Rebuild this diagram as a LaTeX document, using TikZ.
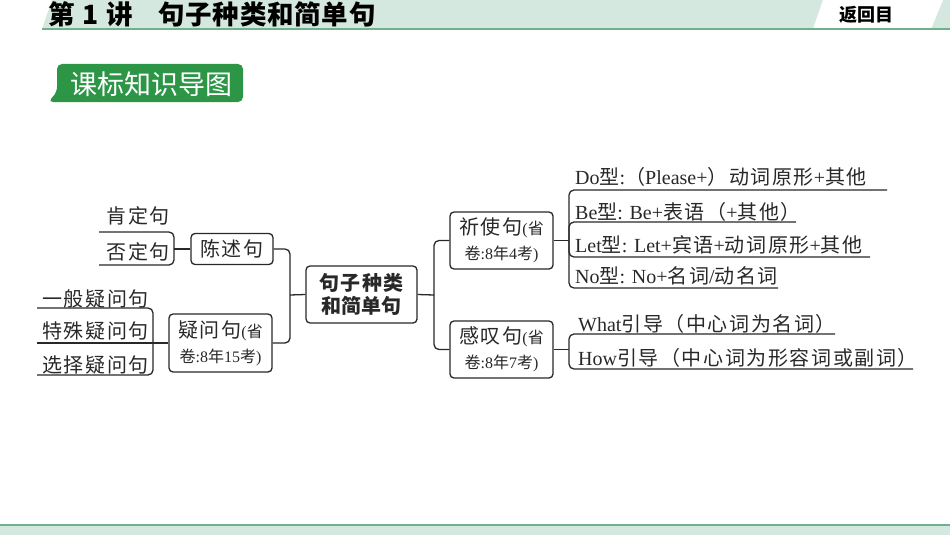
\documentclass[tikz,border=0pt]{standalone}
\usepackage{fontspec}
\setmainfont{Liberation Serif}
\newfontfamily\zhfont[LetterSpace=8]{Noto Sans CJK SC}
\newfontfamily\zhplain{Noto Sans CJK SC}
\newcommand\zh[1]{{\zhfont #1}}
\newcommand\sm[1]{{\fontsize{16}{20}\selectfont #1}}
\definecolor{hdr}{RGB}{213,232,223}
\definecolor{hline}{RGB}{112,176,140}
\definecolor{tabg}{RGB}{44,150,70}
\definecolor{ink}{RGB}{40,40,40}
\tikzset{
 conn/.style={draw=ink,line width=1.3pt,rounded corners=5pt},
 bx/.style={draw=ink,line width=1.3pt,rounded corners=4pt,inner sep=0pt,align=center,text=ink,font=\fontsize{20}{25}\selectfont},
 item/.style={inner sep=0pt,font=\fontsize{20}{24}\selectfont,text=ink},
 ttl/.style={anchor=base west,inner sep=0,font=\zhplain\bfseries\fontsize{26.5}{30}\selectfont},
}
\begin{document}
\begin{tikzpicture}[x=1pt,y=-1pt]
\useasboundingbox (0,0) rectangle (950,535);
% header
\fill[hdr] (42,29) -- (52,0) -- (950,0) -- (950,29) -- cycle;
\fill[white] (813,29) -- (823,0) -- (943,0) -- (931,29) -- cycle;
\draw[hline,line width=2pt] (42,29.5) -- (950,29.5);
\node[ttl] (title1) at (48,25) {第\hspace{0.3em}1\hspace{0.3em}讲};
\node[ttl] (title2) at (158,25) {\addfontfeature{LetterSpace=3}句子种类和简单句};
\node[font=\zhplain\bfseries\fontsize{18}{20}\selectfont,inner sep=0] (back) at (866,15) {返回目};
% tab
\fill[tabg,rounded corners=5pt] (57,92) |- (243,64) |- (48,102) -- cycle;
\node[text=white,font=\zhplain\fontsize{27}{30}\selectfont,inner sep=0] (tab) at (151,84) {课标知识导图};
% footer
\fill[hdr] (0,525) rectangle (950,535);
\draw[hline,line width=2pt] (0,524.5) -- (950,524.5);
% boxes
\node[bx,minimum width=82pt,minimum height=31pt] (cs) at (232,249) {\zh{陈述句}};
\node[bx,minimum width=103pt,minimum height=58pt] (yw) at (220.5,343) {\zh{疑问句}\sm{(\zh{省}}\\\sm{\zh{卷}:8\zh{年}15\zh{考})}};
\node[bx,minimum width=111pt,minimum height=57pt,font=\zhplain\bfseries\fontsize{20}{23}\selectfont] (ct) at (361.5,294.5) {\addfontfeature{LetterSpace=6}句子种类\\和简单句};
\node[bx,minimum width=103pt,minimum height=57pt] (qs) at (501.5,240.5) {\zh{祈使句}\sm{(\zh{省}}\\\sm{\zh{卷}:8\zh{年}4\zh{考})}};
\node[bx,minimum width=103pt,minimum height=57pt] (gt) at (501.5,349.5) {\zh{感叹句}\sm{(\zh{省}}\\\sm{\zh{卷}:8\zh{年}7\zh{考})}};
% left of chenshu
\coordinate (jA) at (174,249);
\coordinate (a1) at (99,232);
\coordinate (a2) at (99,265);
\draw[conn] (cs.west) -- (jA);
\draw[conn] (jA) |- (a1);
\draw[conn] (jA) |- (a2);
% left of yiwen
\coordinate (jB) at (153,343);
\coordinate (b0) at (37,343);
\coordinate (b1) at (37,308);
\coordinate (b2) at (37,375);
\draw[conn] (b0) -- (yw.west);
\draw[conn] (jB) |- (b1);
\draw[conn] (jB) |- (b2);
% centre left
\coordinate (jL) at (290,295);
\draw[conn] (cs.east) -| (jL);
\draw[conn] (yw.east) -| (jL);
\draw[conn] (jL) -- (ct.west);
% centre right
\coordinate (jR) at (434,295);
\draw[conn] (ct.east) -- (jR);
\draw[conn] (jR) |- (qs.west);
\draw[conn] (jR) |- (gt.west);
% qishi
\coordinate (jQ) at (569,240.5);
\coordinate (dE) at (887,190);
\coordinate (bE) at (796,222);
\coordinate (lE) at (870,257);
\coordinate (nE) at (778,288);
\draw[conn] (qs.east) -- (jQ);
\draw[conn] (jQ) |- (dE);
\draw[conn] (jQ) |- (bE);
\draw[conn] (jQ) |- (lE);
\draw[conn] (jQ) |- (nE);
% gantan
\coordinate (jG) at (569,349.5);
\coordinate (wE) at (835,334);
\coordinate (hE) at (913,369);
\draw[conn] (gt.east) -- (jG);
\draw[conn] (jG) |- (wE);
\draw[conn] (jG) |- (hE);
% items
\node[item,anchor=base west] (tDo) at (575,184) {Do\zh{型}:\zh{（}Please+\zh{）动词原形}+\zh{其他}};
\node[item,anchor=base west] (tBe) at (575,219) {Be\zh{型}: Be+\zh{表语（}+\zh{其他）}};
\node[item,anchor=base west] (tLet) at (575,252) {Let\zh{型}: Let+\zh{宾语}+\zh{动词原形}+\zh{其他}};
\node[item,anchor=base west] (tNo) at (575,283) {No\zh{型}: No+\zh{名词}/\zh{动名词}};
\node[item,anchor=base west] (tWhat) at (578,331.5) {What\zh{引导（中心词为名词）}};
\node[item,anchor=base west] (tHow) at (578,365) {How\zh{引导（中心词为形容词或副词）}};
\node[item,anchor=base east] (tK) at (170,223) {\zh{肯定句}};
\node[item,anchor=base east] (tF) at (170,259.5) {\zh{否定句}};
\node[item,anchor=base east] (tY1) at (149,306) {\zh{一般疑问句}};
\node[item,anchor=base east] (tY2) at (149,338.5) {\zh{特殊疑问句}};
\node[item,anchor=base east] (tY3) at (149,372) {\zh{选择疑问句}};
\end{tikzpicture}
\end{document}
